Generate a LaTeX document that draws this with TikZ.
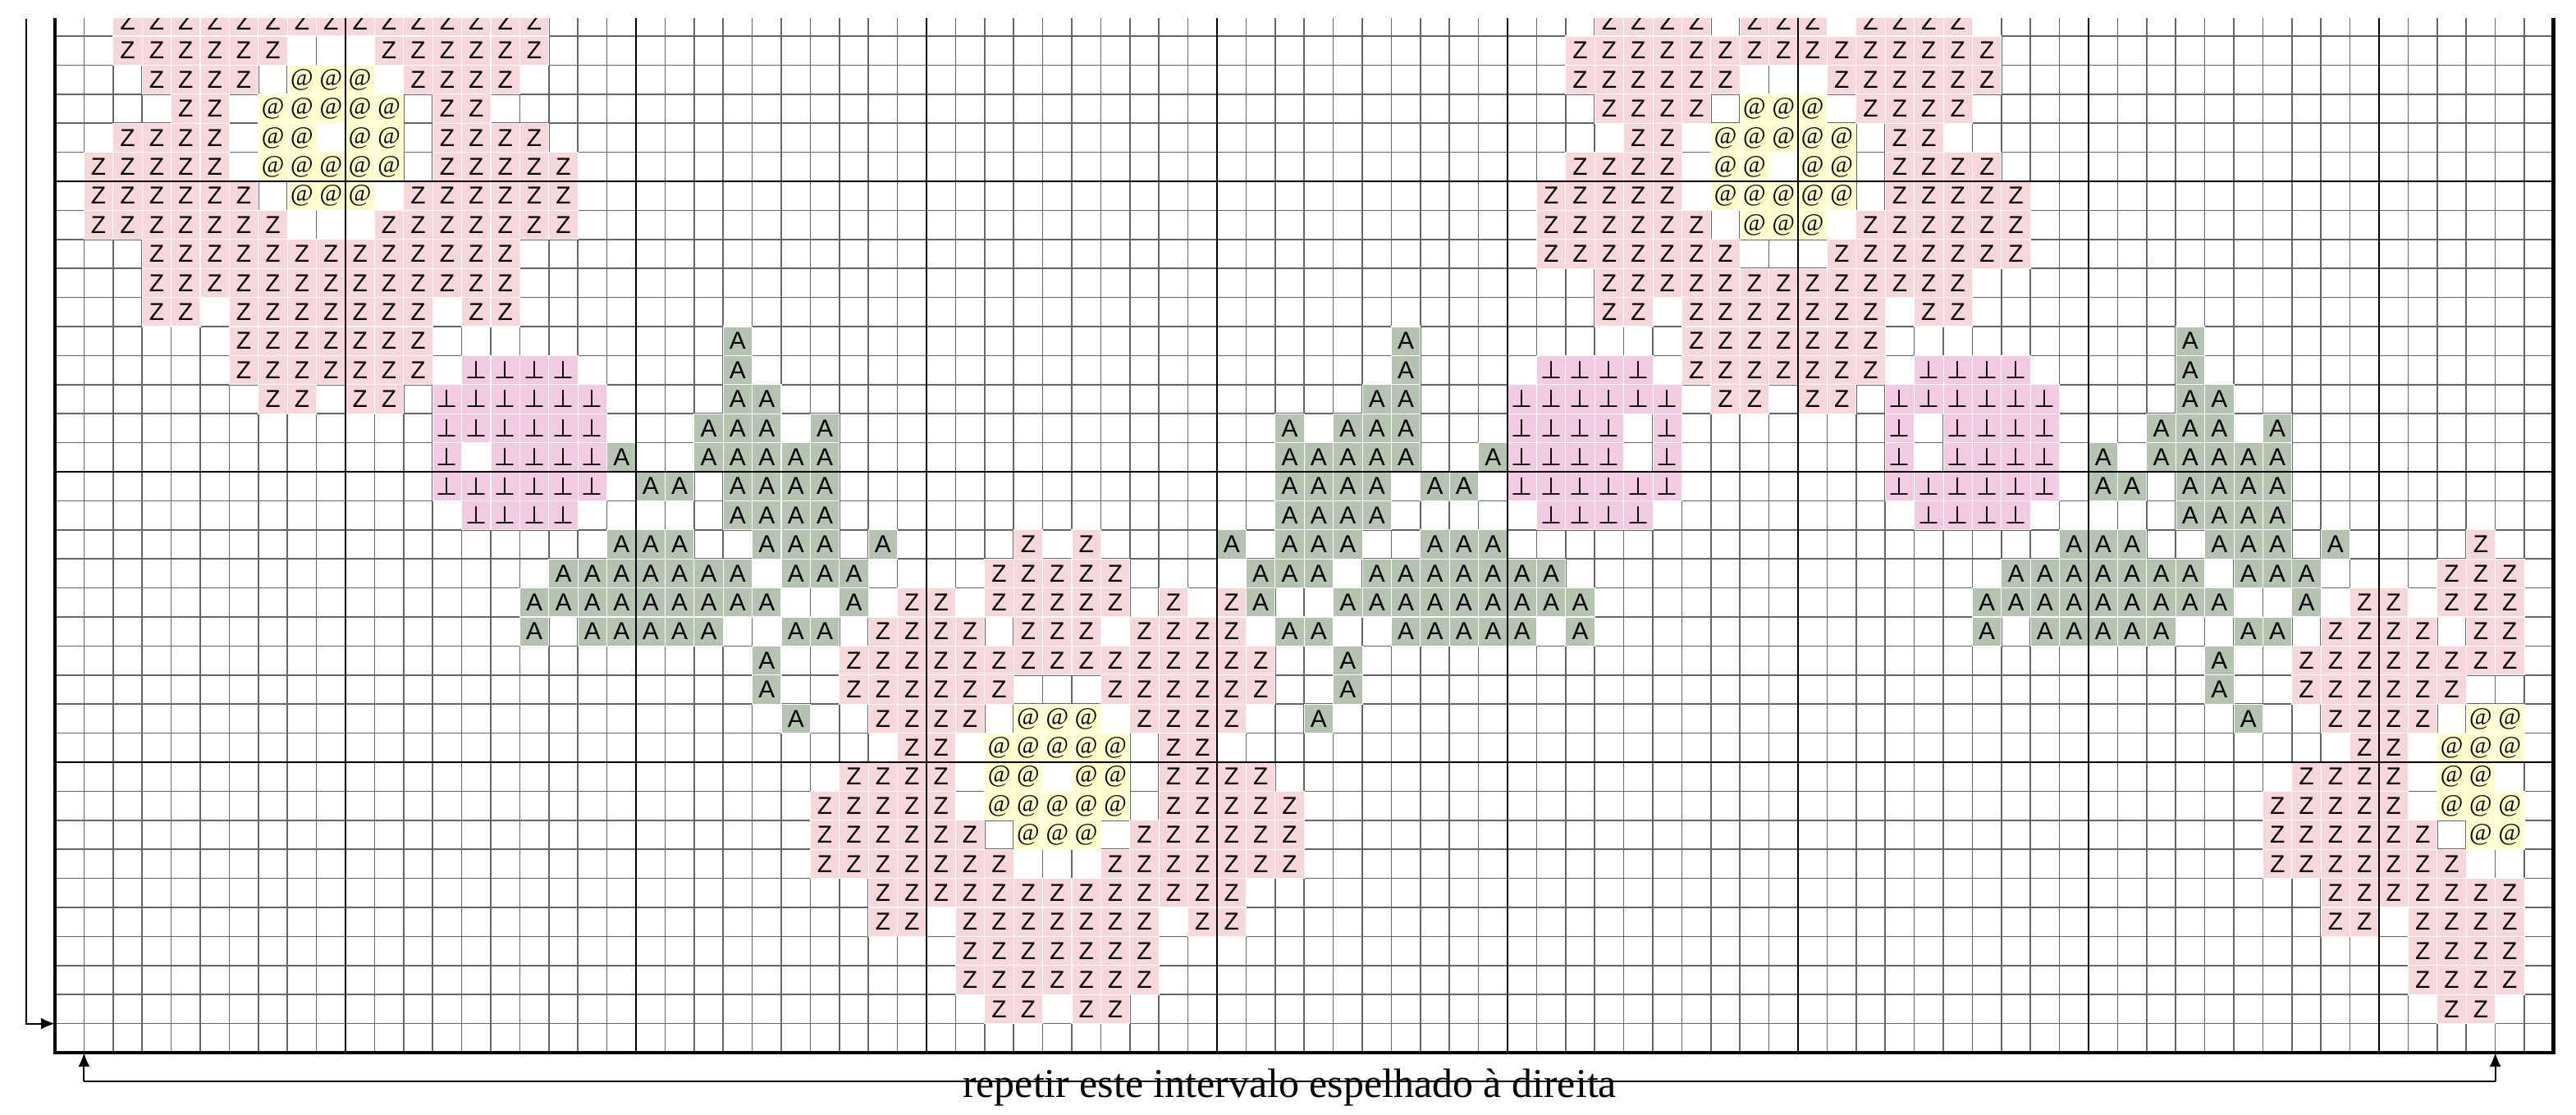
\documentclass[tikz,border=0pt]{standalone}
\usepackage{fontspec}
\setmainfont{Liberation Serif}
\newfontfamily\cellfont{Liberation Sans}
\newfontfamily\tackfont{DejaVu Sans}
\usetikzlibrary{arrows.meta}

\definecolor{petal}{HTML}{F7D6DC}
\definecolor{bud}{HTML}{F2CBE2}
\definecolor{leaf}{HTML}{B4C4B0}
\definecolor{heart}{HTML}{FFFFCC}

\newcommand{\leafmark}{{\tackfont\char"22A5}}
\newcommand{\stitch}[5]{\foreach \cx in {#4,...,#5} \node[#1] (#1-#3-\cx) at (\cx+0.5,35.5-#3) {#2};}

\tikzset{
  cell/.style={minimum size=0.354cm, inner sep=0pt, outer sep=0pt, draw=white, line width=0.3pt, font=\cellfont\fontsize{8.5}{8.5}\selectfont},
  zst/.style={cell, fill=petal},
  ast/.style={cell, fill=leaf},
  tst/.style={cell, fill=bud},
  yst/.style={cell, fill=heart, font=\rmfamily\fontsize{8.5}{8.5}\selectfont},
  gridthin/.style={line width=0.45pt, draw=black!60},
  gridthick/.style={line width=0.75pt, draw=black},
  gridframe/.style={line width=1.2pt, draw=black},
  guideline/.style={line width=0.6pt, draw=black},
  tip/.style={-{Latex[length=0.17cm,width=0.14cm]}}
}

\begin{document}
\begin{tikzpicture}[x=0.354cm, y=0.354cm]
\useasboundingbox (-1.8927,-2.1186) rectangle (86.7797,36.2429);

\begin{scope}
\clip (-0.5,-0.5) rectangle (86.5,35.6);
\foreach \i in {0,...,86} \draw[gridthin] (\i,0) -- (\i,36);
\foreach \j in {1,...,35} \draw[gridthin] (0,\j) -- (86,\j);

\stitch{zst}{Z}{0}{2}{16} \stitch{zst}{Z}{0}{53}{56} \stitch{zst}{Z}{0}{58}{60} \stitch{zst}{Z}{0}{62}{65}
\stitch{zst}{Z}{1}{2}{7} \stitch{zst}{Z}{1}{11}{16} \stitch{zst}{Z}{1}{52}{66}
\stitch{zst}{Z}{2}{3}{6} \stitch{yst}{@}{2}{8}{10} \stitch{zst}{Z}{2}{12}{15} \stitch{zst}{Z}{2}{52}{57} \stitch{zst}{Z}{2}{61}{66}
\stitch{zst}{Z}{3}{4}{5} \stitch{yst}{@}{3}{7}{11} \stitch{zst}{Z}{3}{13}{14} \stitch{zst}{Z}{3}{53}{56} \stitch{yst}{@}{3}{58}{60} \stitch{zst}{Z}{3}{62}{65}
\stitch{zst}{Z}{4}{2}{5} \stitch{yst}{@}{4}{7}{8} \stitch{yst}{@}{4}{10}{11} \stitch{zst}{Z}{4}{13}{16} \stitch{zst}{Z}{4}{54}{55} \stitch{yst}{@}{4}{57}{61} \stitch{zst}{Z}{4}{63}{64}
\stitch{zst}{Z}{5}{1}{5} \stitch{yst}{@}{5}{7}{11} \stitch{zst}{Z}{5}{13}{17} \stitch{zst}{Z}{5}{52}{55} \stitch{yst}{@}{5}{57}{58} \stitch{yst}{@}{5}{60}{61} \stitch{zst}{Z}{5}{63}{66}
\stitch{zst}{Z}{6}{1}{6} \stitch{yst}{@}{6}{8}{10} \stitch{zst}{Z}{6}{12}{17} \stitch{zst}{Z}{6}{51}{55} \stitch{yst}{@}{6}{57}{61} \stitch{zst}{Z}{6}{63}{67}
\stitch{zst}{Z}{7}{1}{7} \stitch{zst}{Z}{7}{11}{17} \stitch{zst}{Z}{7}{51}{56} \stitch{yst}{@}{7}{58}{60} \stitch{zst}{Z}{7}{62}{67}
\stitch{zst}{Z}{8}{3}{15} \stitch{zst}{Z}{8}{51}{57} \stitch{zst}{Z}{8}{61}{67}
\stitch{zst}{Z}{9}{3}{15} \stitch{zst}{Z}{9}{53}{65}
\stitch{zst}{Z}{10}{3}{4} \stitch{zst}{Z}{10}{6}{12} \stitch{zst}{Z}{10}{14}{15} \stitch{zst}{Z}{10}{53}{54} \stitch{zst}{Z}{10}{56}{62} \stitch{zst}{Z}{10}{64}{65}
\stitch{zst}{Z}{11}{6}{12} \stitch{ast}{A}{11}{23}{23} \stitch{ast}{A}{11}{46}{46} \stitch{zst}{Z}{11}{56}{62} \stitch{ast}{A}{11}{73}{73}
\stitch{zst}{Z}{12}{6}{12} \stitch{tst}{\leafmark}{12}{14}{17} \stitch{ast}{A}{12}{23}{23} \stitch{ast}{A}{12}{46}{46} \stitch{tst}{\leafmark}{12}{51}{54} \stitch{zst}{Z}{12}{56}{62} \stitch{tst}{\leafmark}{12}{64}{67} \stitch{ast}{A}{12}{73}{73}
\stitch{zst}{Z}{13}{7}{8} \stitch{zst}{Z}{13}{10}{11} \stitch{tst}{\leafmark}{13}{13}{18} \stitch{ast}{A}{13}{23}{24} \stitch{ast}{A}{13}{45}{46} \stitch{tst}{\leafmark}{13}{50}{55} \stitch{zst}{Z}{13}{57}{58} \stitch{zst}{Z}{13}{60}{61} \stitch{tst}{\leafmark}{13}{63}{68} \stitch{ast}{A}{13}{73}{74}
\stitch{tst}{\leafmark}{14}{13}{18} \stitch{ast}{A}{14}{22}{24} \stitch{ast}{A}{14}{26}{26} \stitch{ast}{A}{14}{42}{42} \stitch{ast}{A}{14}{44}{46} \stitch{tst}{\leafmark}{14}{50}{53} \stitch{tst}{\leafmark}{14}{55}{55} \stitch{tst}{\leafmark}{14}{63}{63} \stitch{tst}{\leafmark}{14}{65}{68} \stitch{ast}{A}{14}{72}{74} \stitch{ast}{A}{14}{76}{76}
\stitch{tst}{\leafmark}{15}{13}{13} \stitch{tst}{\leafmark}{15}{15}{18} \stitch{ast}{A}{15}{19}{19} \stitch{ast}{A}{15}{22}{26} \stitch{ast}{A}{15}{42}{46} \stitch{ast}{A}{15}{49}{49} \stitch{tst}{\leafmark}{15}{50}{53} \stitch{tst}{\leafmark}{15}{55}{55} \stitch{tst}{\leafmark}{15}{63}{63} \stitch{tst}{\leafmark}{15}{65}{68} \stitch{ast}{A}{15}{70}{70} \stitch{ast}{A}{15}{72}{76}
\stitch{tst}{\leafmark}{16}{13}{18} \stitch{ast}{A}{16}{20}{21} \stitch{ast}{A}{16}{23}{26} \stitch{ast}{A}{16}{42}{45} \stitch{ast}{A}{16}{47}{48} \stitch{tst}{\leafmark}{16}{50}{55} \stitch{tst}{\leafmark}{16}{63}{68} \stitch{ast}{A}{16}{70}{71} \stitch{ast}{A}{16}{73}{76}
\stitch{tst}{\leafmark}{17}{14}{17} \stitch{ast}{A}{17}{23}{26} \stitch{ast}{A}{17}{42}{45} \stitch{tst}{\leafmark}{17}{51}{54} \stitch{tst}{\leafmark}{17}{64}{67} \stitch{ast}{A}{17}{73}{76}
\stitch{ast}{A}{18}{19}{21} \stitch{ast}{A}{18}{24}{26} \stitch{ast}{A}{18}{28}{28} \stitch{zst}{Z}{18}{33}{33} \stitch{zst}{Z}{18}{35}{35} \stitch{ast}{A}{18}{40}{40} \stitch{ast}{A}{18}{42}{44} \stitch{ast}{A}{18}{47}{49} \stitch{ast}{A}{18}{69}{71} \stitch{ast}{A}{18}{74}{76} \stitch{ast}{A}{18}{78}{78} \stitch{zst}{Z}{18}{83}{83}
\stitch{ast}{A}{19}{17}{23} \stitch{ast}{A}{19}{25}{27} \stitch{zst}{Z}{19}{32}{36} \stitch{ast}{A}{19}{41}{43} \stitch{ast}{A}{19}{45}{51} \stitch{ast}{A}{19}{67}{73} \stitch{ast}{A}{19}{75}{77} \stitch{zst}{Z}{19}{82}{84}
\stitch{ast}{A}{20}{16}{24} \stitch{ast}{A}{20}{27}{27} \stitch{zst}{Z}{20}{29}{30} \stitch{zst}{Z}{20}{32}{36} \stitch{zst}{Z}{20}{38}{38} \stitch{zst}{Z}{20}{40}{40} \stitch{ast}{A}{20}{41}{41} \stitch{ast}{A}{20}{44}{52} \stitch{ast}{A}{20}{66}{74} \stitch{ast}{A}{20}{77}{77} \stitch{zst}{Z}{20}{79}{80} \stitch{zst}{Z}{20}{82}{84}
\stitch{ast}{A}{21}{16}{16} \stitch{ast}{A}{21}{18}{22} \stitch{ast}{A}{21}{25}{26} \stitch{zst}{Z}{21}{28}{31} \stitch{zst}{Z}{21}{33}{35} \stitch{zst}{Z}{21}{37}{40} \stitch{ast}{A}{21}{42}{43} \stitch{ast}{A}{21}{46}{50} \stitch{ast}{A}{21}{52}{52} \stitch{ast}{A}{21}{66}{66} \stitch{ast}{A}{21}{68}{72} \stitch{ast}{A}{21}{75}{76} \stitch{zst}{Z}{21}{78}{81} \stitch{zst}{Z}{21}{83}{84}
\stitch{ast}{A}{22}{24}{24} \stitch{zst}{Z}{22}{27}{41} \stitch{ast}{A}{22}{44}{44} \stitch{ast}{A}{22}{74}{74} \stitch{zst}{Z}{22}{77}{84}
\stitch{ast}{A}{23}{24}{24} \stitch{zst}{Z}{23}{27}{32} \stitch{zst}{Z}{23}{36}{41} \stitch{ast}{A}{23}{44}{44} \stitch{ast}{A}{23}{74}{74} \stitch{zst}{Z}{23}{77}{82}
\stitch{ast}{A}{24}{25}{25} \stitch{zst}{Z}{24}{28}{31} \stitch{yst}{@}{24}{33}{35} \stitch{zst}{Z}{24}{37}{40} \stitch{ast}{A}{24}{43}{43} \stitch{ast}{A}{24}{75}{75} \stitch{zst}{Z}{24}{78}{81} \stitch{yst}{@}{24}{83}{84}
\stitch{zst}{Z}{25}{29}{30} \stitch{yst}{@}{25}{32}{36} \stitch{zst}{Z}{25}{38}{39} \stitch{zst}{Z}{25}{79}{80} \stitch{yst}{@}{25}{82}{84}
\stitch{zst}{Z}{26}{27}{30} \stitch{yst}{@}{26}{32}{33} \stitch{yst}{@}{26}{35}{36} \stitch{zst}{Z}{26}{38}{41} \stitch{zst}{Z}{26}{77}{80} \stitch{yst}{@}{26}{82}{83}
\stitch{zst}{Z}{27}{26}{30} \stitch{yst}{@}{27}{32}{36} \stitch{zst}{Z}{27}{38}{42} \stitch{zst}{Z}{27}{76}{80} \stitch{yst}{@}{27}{82}{84}
\stitch{zst}{Z}{28}{26}{31} \stitch{yst}{@}{28}{33}{35} \stitch{zst}{Z}{28}{37}{42} \stitch{zst}{Z}{28}{76}{81} \stitch{yst}{@}{28}{83}{84}
\stitch{zst}{Z}{29}{26}{32} \stitch{zst}{Z}{29}{36}{42} \stitch{zst}{Z}{29}{76}{82}
\stitch{zst}{Z}{30}{28}{40} \stitch{zst}{Z}{30}{78}{84}
\stitch{zst}{Z}{31}{28}{29} \stitch{zst}{Z}{31}{31}{37} \stitch{zst}{Z}{31}{39}{40} \stitch{zst}{Z}{31}{78}{79} \stitch{zst}{Z}{31}{81}{84}
\stitch{zst}{Z}{32}{31}{37} \stitch{zst}{Z}{32}{81}{84}
\stitch{zst}{Z}{33}{31}{37} \stitch{zst}{Z}{33}{81}{84}
\stitch{zst}{Z}{34}{32}{33} \stitch{zst}{Z}{34}{35}{36} \stitch{zst}{Z}{34}{82}{83}

\foreach \i in {10,20,...,80} \draw[gridthick] (\i,0) -- (\i,36);
\foreach \j in {10,20,30} \draw[gridthick] (0,\j) -- (86,\j);
\draw[gridframe] (0,36) -- (0,0) -- (86,0) -- (86,36);
\end{scope}

\coordinate (top) at (-1,35.6);
\coordinate (bend) at (-1,1);
\coordinate (mark) at (0,1);
\draw[guideline, tip] (top) -- (bend) -- (mark);

\coordinate (footL) at (1,-1);
\coordinate (footR) at (84,-1);
\coordinate (repL) at (1,0);
\coordinate (repR) at (84,0);
\draw[guideline] (footL) -- (footR);
\draw[guideline, tip] (footL) -- (repL);
\draw[guideline, tip] (footR) -- (repR);
\node[anchor=base, inner sep=0pt, font=\fontsize{14.2}{16}\selectfont] (note) at (42.5,-1.53) {repetir este intervalo espelhado à direita};

\end{tikzpicture}
\end{document}
